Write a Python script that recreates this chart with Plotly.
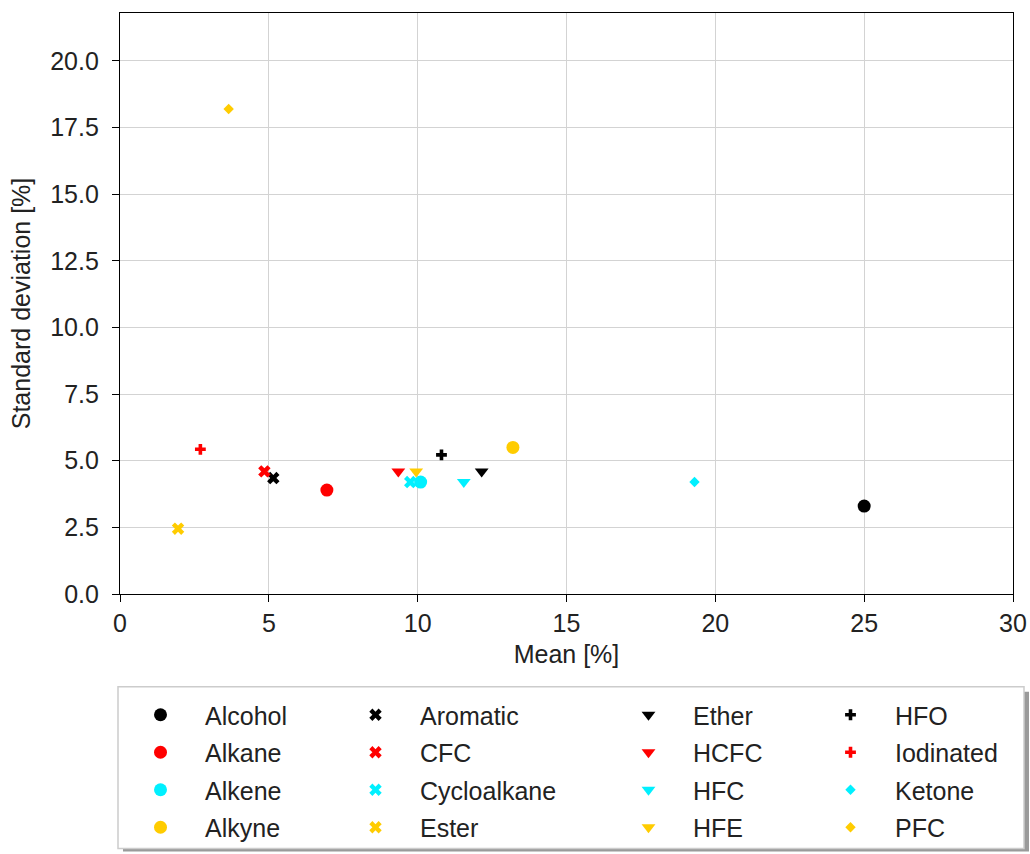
import plotly.graph_objects as go

# Data
categories = ["Alcohol", "Alkane", "Alkene", "Alkyne",
              "Aromatic", "CFC", "Cycloalkane", "Ester",
              "Ether", "HCFC", "HFC", "HFE",
              "HFO", "Iodinated", "Ketone", "PFC"]
mean_vals = [25.0, 6.95, 10.1, 13.2,
             5.15, 4.85, 9.75, 1.95,
             12.15, 9.35, 11.55, 9.95,
             10.8, 2.7, 19.3, 3.65]
std_vals = [3.3, 3.9, 4.2, 5.5,
            4.35, 4.6, 4.2, 2.45,
            4.6, 4.6, 4.2, 4.6,
            5.22, 5.43, 4.2, 18.2]
colors = ["black", "#ff0000", "#00f0ff", "#ffcc00"] * 4
symbols = ["circle"] * 4 + ["x"] * 4 + ["triangle-down"] * 4 + ["cross"] * 2 + ["diamond"] * 2
sizes = [13] * 4 + [11] * 4 + [12] * 4 + [9] * 2 + [8] * 2

x_ticks = [0, 5, 10, 15, 20, 25, 30]
y_ticks = [0.0, 2.5, 5.0, 7.5, 10.0, 12.5, 15.0, 17.5, 20.0]

fig = go.Figure()
legend_names = ["legend", "legend2", "legend3", "legend4"]
for i, cat in enumerate(categories):
    fig.add_trace(go.Scatter(
        x=[mean_vals[i]], y=[std_vals[i]], mode="markers", name=cat,
        marker=dict(color=colors[i], symbol=symbols[i], size=sizes[i], line=dict(width=0)),
        legend=legend_names[i // 4], legendgroup=cat,
    ))

EXTRA = 7  # compensation for the observed vertical shrink of the rendered page
W, H = 1030, 854 + EXTRA
L, R, T, B = 120, 17, 13, 259 + EXTRA
pw, ph = W - L - R, H - T - B

def px_x(p):
    return (p - L) / pw

def px_y(p):
    return (H - B - p) / ph

fam = "Liberation Sans, Arial, sans-serif"
font = dict(family=fam, size=25, color="#222222")
tick_font = dict(family=fam, size=25, color="#222222")
leg_common = dict(font=font, bgcolor="rgba(0,0,0,0)", borderwidth=0, tracegroupgap=2,
                  yanchor="top", xanchor="left", y=px_y(692), itemwidth=79)
layout_legends = {}
for k, xp in zip(legend_names, [116, 331, 604, 806]):
    layout_legends[k] = dict(leg_common, x=px_x(xp))

fig.update_layout(
    width=W, height=H, autosize=False,
    margin=dict(l=L, r=R, t=T, b=B),
    paper_bgcolor="white", plot_bgcolor="white",
    font=font,
    showlegend=True,
    **layout_legends,
    xaxis=dict(range=[0, 30], tickvals=x_ticks, ticktext=[str(v) for v in x_ticks],
               showgrid=True, gridcolor="#d3d3d3", gridwidth=1,
               showline=True, linecolor="black", linewidth=1.2, mirror=True,
               ticks="outside", ticklen=7, tickcolor="black", tickfont=tick_font,
               ticklabelstandoff=0,
               zeroline=False, automargin=False,
               title=dict(text="Mean [%]", font=font, standoff=9)),
    yaxis=dict(range=[0, 21.8], tickvals=y_ticks, ticktext=[f"{v:.1f}" for v in y_ticks],
               showgrid=True, gridcolor="#d3d3d3", gridwidth=1,
               showline=True, linecolor="black", linewidth=1.2, mirror=True,
               ticks="outside", ticklen=7, tickcolor="black", tickfont=tick_font,
               ticklabelstandoff=8,
               zeroline=False, automargin=False,
               title=dict(text="Standard deviation [%]", font=font, standoff=12)),
)

# legend frame with shadow
fig.add_shape(type="rect", xref="paper", yref="paper",
              x0=px_x(123), x1=px_x(1029), y0=px_y(853), y1=px_y(693),
              fillcolor="#9a9a9a", line=dict(width=0), layer="below")
fig.add_shape(type="rect", xref="paper", yref="paper",
              x0=px_x(118), x1=px_x(1024), y0=px_y(850), y1=px_y(688),
              fillcolor="white", line=dict(color="#cccccc", width=1.5), layer="below")

fig.write_html("out.html",
               config={"responsive": False, "displayModeBar": False},
               post_script="document.body.style.margin='0';document.body.style.overflow='hidden';")
